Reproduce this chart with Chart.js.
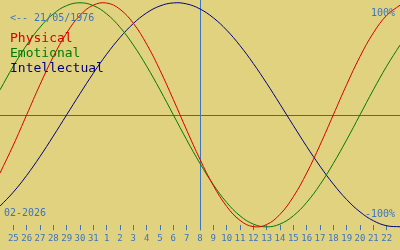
<!DOCTYPE html>
<html>
<head>
<meta charset="utf-8">
<script src="https://cdn.jsdelivr.net/npm/chart.js@4"></script>
<style>
html,body{margin:0;padding:0;background:#E0D27F;}
#wrap{width:400px;height:250px;position:relative;}
</style>
</head>
<body>
<div id="wrap"><canvas id="c" width="400" height="250"></canvas></div>
<script>
// Day offsets (0 = 25 Jan 2026) and their labels
const dayIndex = [-1,0,1,2,3,4,5,6,7,8,9,10,11,12,13,14,15,16,17,18,19,20,21,22,23,24,25,26,27,28,29];
const dayLabels = ["25","26","27","28","29","30","31","1","2","3","4","5","6","7","8","9","10","11","12","13","14","15","16","17","18","19","20","21","22"];
const todayIndex = 14;
// Series values (-1..1) read for each day, from dayIndex[0] to the last
const physical = [-0.520,-0.270,0,0.270,0.520,0.731,0.888,0.979,0.998,0.942,0.817,0.631,0.398,0.136,-0.136,-0.398,-0.631,-0.817,-0.942,-0.998,-0.979,-0.888,-0.731,-0.520,-0.270,0,0.270,0.520,0.731,0.888,0.979];
const emotional = [0.223,0.434,0.623,0.782,0.901,0.975,1.0,0.975,0.901,0.782,0.623,0.434,0.223,0,-0.223,-0.434,-0.623,-0.782,-0.901,-0.975,-1.0,-0.975,-0.901,-0.782,-0.623,-0.434,-0.223,0,0.223,0.434,0.623];
const intellectual = [-0.815,-0.690,-0.541,-0.372,-0.189,0,0.189,0.372,0.541,0.690,0.815,0.910,0.972,0.999,0.990,0.945,0.866,0.756,0.618,0.458,0.282,0.095,-0.095,-0.282,-0.458,-0.618,-0.756,-0.866,-0.945,-0.990,-0.999];
const seriesNames = ["Physical","Emotional","Intellectual"];
const seriesColors = ["#d80000","#007a00","#000080"];
const birthText = "<-- 21/05/1976";
const monthText = "02-2026";
const topText = "100%";
const bottomText = "-100%";

const labelBlue = "#3a74c4";
const mono = "'DejaVu Sans Mono', monospace";

const toPts = arr => arr.map((v,i)=>({x:dayIndex[i], y:v}));

const overlay = {
  id:'overlay',
  beforeDatasetsDraw(chart){
    const ctx = chart.ctx, a = chart.chartArea;
    const ys = chart.scales.y, xs = chart.scales.x;
    ctx.save();
    ctx.strokeStyle = '#56647a';
    ctx.lineWidth = 1;
    const y0 = Math.round(ys.getPixelForValue(0)) + 0.5;
    ctx.beginPath(); ctx.moveTo(0,y0); ctx.lineTo(chart.width,y0); ctx.stroke();
    ctx.strokeStyle = labelBlue;
    const xt = Math.round(xs.getPixelForValue(todayIndex)) + 0.5;
    ctx.beginPath(); ctx.moveTo(xt,0); ctx.lineTo(xt,a.bottom+5); ctx.stroke();
    ctx.restore();
  },
  afterDraw(chart){
    const ctx = chart.ctx;
    ctx.save();
    ctx.textBaseline = 'alphabetic';
    ctx.font = "10px " + mono;
    ctx.fillStyle = labelBlue;
    ctx.textAlign = 'left';
    ctx.fillText(birthText, 10, 21);
    ctx.fillText(monthText, 4, 216);
    ctx.textAlign = 'right';
    ctx.fillText(topText, 395, 16);
    ctx.fillText(bottomText, 395, 217);
    ctx.textAlign = 'left';
    ctx.font = "13px " + mono;
    seriesNames.forEach((n,i)=>{
      ctx.fillStyle = seriesColors[i];
      ctx.fillText(n, 10, 42 + i*15);
    });
    ctx.restore();
  }
};

new Chart(document.getElementById('c'), {
  type:'line',
  data:{
    datasets:[physical, emotional, intellectual].map((arr,i)=>({
      label:seriesNames[i],
      data:toPts(arr),
      borderColor:seriesColors[i],
      borderWidth:1,
      pointRadius:0,
      tension:0.4,
      fill:false,
      clip:false
    }))
  },
  options:{
    responsive:false,
    animation:false,
    devicePixelRatio:1,
    layout:{padding:{left:0,right:0,top:0,bottom:3}},
    plugins:{legend:{display:false}, tooltip:{enabled:false}},
    scales:{
      x:{
        type:'linear', min:-1, max:29,
        afterBuildTicks(s){ s.ticks = dayLabels.map((_,i)=>({value:i})); },
        ticks:{
          autoSkip:false, maxRotation:0, padding:3,
          color:labelBlue,
          font:{family:mono, size:9},
          callback:(v)=>dayLabels[v]
        },
        grid:{drawOnChartArea:false, drawTicks:true, tickLength:5, color:labelBlue, tickColor:labelBlue},
        border:{display:false}
      },
      y:{display:false, min:-0.985, max:1.025}
    }
  },
  plugins:[overlay]
});
</script>
</body>
</html>
